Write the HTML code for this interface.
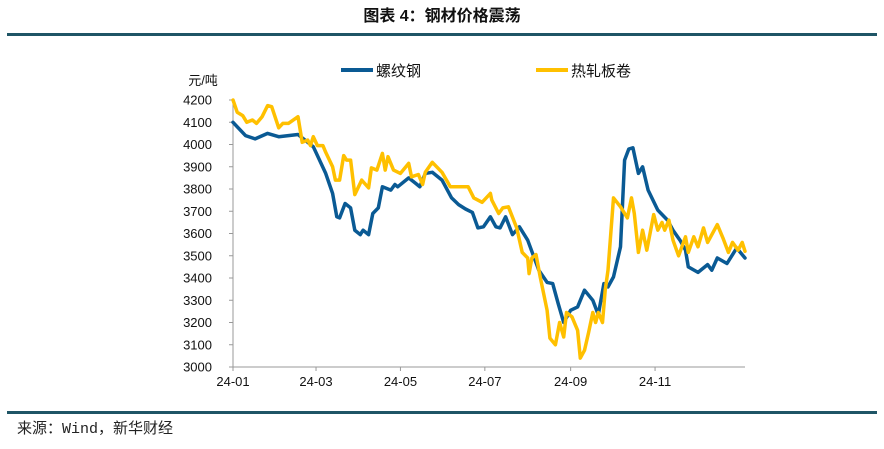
<!DOCTYPE html>
<html><head><meta charset="utf-8"><style>
body{margin:0;background:#fff;width:884px;height:444px;overflow:hidden}
svg text{font-family:"Liberation Sans","Noto Sans CJK SC",sans-serif}
</style></head><body>
<svg id="c" width="884" height="444" xmlns="http://www.w3.org/2000/svg">
<text x="442" y="21" text-anchor="middle" font-size="16" font-weight="bold" fill="#111">图表 4：钢材价格震荡</text>
<rect x="7" y="33" width="870" height="3" fill="#1f5566"/>
<rect x="7" y="411" width="870" height="3" fill="#1f5566"/>
<text x="17" y="433" font-size="15" fill="#222" style="font-family:'Liberation Mono','Noto Sans CJK SC',monospace">来源：Wind，新华财经</text>
<text x="203" y="85" text-anchor="middle" font-size="13" fill="#111">元/吨</text>
<g>
<line x1="341" y1="70" x2="373" y2="70" stroke="#0a5a94" stroke-width="4"/>
<text x="376" y="76" font-size="15" fill="#111">螺纹钢</text>
<line x1="536" y1="70" x2="568" y2="70" stroke="#ffc000" stroke-width="4"/>
<text x="571" y="76" font-size="15" fill="#111">热轧板卷</text>
</g>
<g id="axes"></g>
<g id="series"></g>
</svg>
<script>
const yTicks=[3000,3100,3200,3300,3400,3500,3600,3700,3800,3900,4000,4100,4200];
const xTickDays=[0,60,121,182,244,305];
const xTickLabels=["24-01","24-03","24-05","24-07","24-09","24-11"];
const rebarDays=[0,9,16,25,33,47,58,67,72,75,77,81,85,88,92,94,98,101,105,108,114,117,119,127,132,135,139,144,151,158,163,168,173,177,181,186,190,193,197,202,207,213,221,227,231,235,239,244,249,254,260,264,268,271,275,280,283,286,289,293,296,300,307,314,318,323,327,329,336,343,346,350,357,364,370];
const rebarPrices=[4100,4040,4025,4050,4035,4045,3990,3870,3780,3675,3670,3735,3715,3615,3595,3615,3595,3690,3715,3810,3795,3820,3810,3850,3825,3810,3870,3875,3840,3760,3730,3710,3695,3625,3630,3675,3630,3625,3675,3595,3630,3570,3435,3380,3375,3285,3200,3255,3270,3345,3300,3235,3375,3360,3405,3540,3930,3980,3985,3870,3900,3795,3705,3660,3615,3570,3525,3450,3425,3460,3435,3490,3465,3535,3490,3500,3500];
const hrcDays=[0,3,7,10,14,17,21,25,28,33,36,40,47,50,54,56,58,61,65,67,72,74,77,80,82,85,88,93,98,100,104,108,110,112,116,121,127,129,134,137,139,144,151,157,163,166,170,174,180,186,187,192,195,199,205,209,213,214,216,219,222,227,229,233,236,239,241,245,249,251,254,257,260,262,264,267,269,271,275,280,285,288,290,293,296,299,304,307,310,312,315,318,322,327,329,333,336,340,343,350,354,358,361,365,368,370];
const hrcPrices=[4200,4145,4130,4100,4110,4095,4125,4175,4170,4075,4095,4095,4125,4010,4020,3995,4035,3995,3995,3965,3900,3840,3840,3950,3930,3930,3775,3840,3805,3895,3885,3960,3885,3945,3885,3870,3915,3855,3865,3820,3875,3920,3875,3810,3810,3810,3810,3760,3740,3780,3750,3690,3715,3720,3625,3515,3490,3420,3490,3505,3405,3255,3130,3100,3200,3135,3245,3225,3165,3040,3075,3155,3245,3200,3245,3200,3345,3435,3760,3720,3670,3760,3690,3515,3615,3525,3685,3615,3650,3615,3660,3570,3500,3585,3515,3585,3540,3625,3560,3640,3580,3515,3560,3525,3560,3520];
const X0=233,X1=745,Y0=367,Y1=100;
function xs(d){return X0+d/370*(X1-X0);}
function ys(v){return Y0-(v-3000)/1200*(Y0-Y1);}
const NS="http://www.w3.org/2000/svg";
const ax=document.getElementById('axes');
function mk(t,a,p){const e=document.createElementNS(NS,t);for(const k in a)e.setAttribute(k,a[k]);p.appendChild(e);return e;}
const yl=mk('line',{x1:X0,y1:Y1,x2:X0,y2:Y0,stroke:'#999','stroke-width':1},ax);


const xl=mk('line',{x1:X0,y1:Y0,x2:X1,y2:Y0,stroke:'#999','stroke-width':1},ax);


yTicks.forEach(v=>{
 const y=ys(v);
 const tk=mk('line',{x1:X0-4,y1:y,x2:X0,y2:y,stroke:'#999'},ax);
 
 
 const t=mk('text',{x:X0-21,y:y+4.5,'text-anchor':'end','font-size':13,fill:'#111'},ax);
 t.textContent=v;
 
 
});
xTickDays.forEach((d,i)=>{
 const x=xs(d);
 const tk=mk('line',{x1:x,y1:Y0,x2:x,y2:Y0+4,stroke:'#999'},ax);
 
 
 const t=mk('text',{x:x,y:Y0+19,'text-anchor':'middle','font-size':13,fill:'#111'},ax);
 t.textContent=xTickLabels[i];
 
 
});
const sg=document.getElementById('series');
function line(days,vals,color,name){
 const d=days.map((dd,i)=>(i?'L':'M')+xs(dd).toFixed(1)+','+ys(vals[i]).toFixed(1)).join('');
 const p=mk('path',{d:d,fill:'none',stroke:color,'stroke-width':3.5,'stroke-linejoin':'round','stroke-linecap':'round'},sg);
 
 
}
line(rebarDays,rebarPrices,'#0a5a94','series-rebar');
line(hrcDays,hrcPrices,'#ffc000','series-hrc');
</script>
</body></html>
